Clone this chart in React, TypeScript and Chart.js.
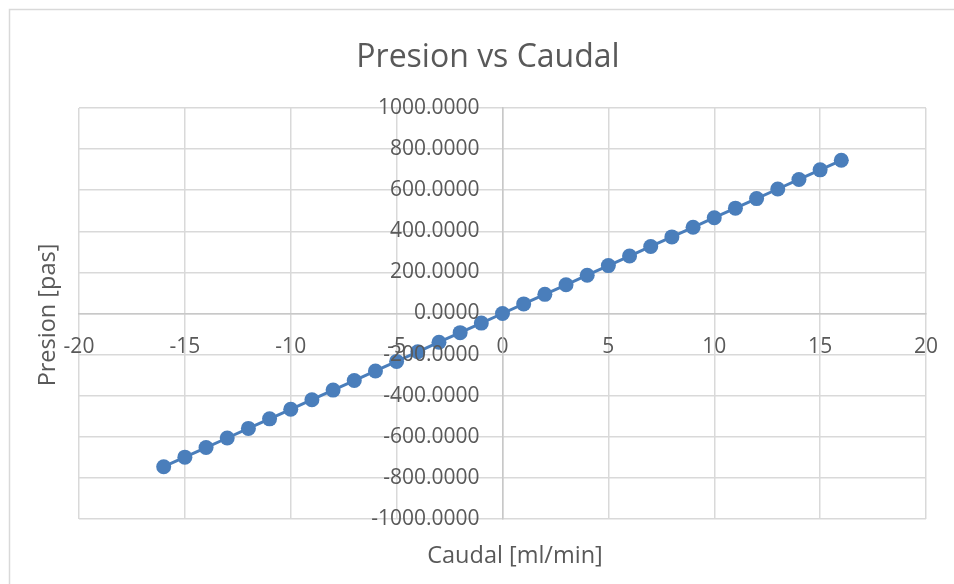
import React, { useEffect, useRef } from "react";
import { Chart, registerables } from "chart.js";

Chart.register(...registerables);

const caudal = [-16, -15, -14, -13, -12, -11, -10, -9, -8, -7, -6, -5, -4, -3, -2, -1, 0, 1, 2, 3, 4, 5, 6, 7, 8, 9, 10, 11, 12, 13, 14, 15, 16];
const presion = [-745.6, -699.0, -652.4, -605.8, -559.2, -512.6, -466.0, -419.4, -372.8, -326.2, -279.6, -233.0, -186.4, -139.8, -93.2, -46.6, 0, 46.6, 93.2, 139.8, 186.4, 233.0, 279.6, 326.2, 372.8, 419.4, 466.0, 512.6, 559.2, 605.8, 652.4, 699.0, 745.6];

const chartTitle = "Presion vs Caudal";
const xTitle = "Caudal [ml/min]";
const yTitle = "Presion [pas]";

const FONT = "'Open Sans', sans-serif";
const TEXT = "#595959";
const GRID = "#d9d9d9";
const SERIES = "#4A7EBB";

const decorPlugin = {
  id: "decor",
  beforeDraw(chart: any) {
    const ctx = chart.ctx;
    ctx.save();
    ctx.strokeStyle = GRID;
    ctx.lineWidth = 1.5;
    ctx.strokeRect(9.5, 9.5, 2000, 2000);
    ctx.restore();
  },
  afterDraw(chart: any) {
    const ctx = chart.ctx;
    const xs = chart.scales.x;
    const ys = chart.scales.y;
    ctx.save();
    ctx.fillStyle = TEXT;
    // y tick labels, placed left of the vertical zero axis
    ctx.font = `21px ${FONT}`;
    ctx.textAlign = "right";
    ctx.textBaseline = "middle";
    const x0 = xs.getPixelForValue(0);
    ys.ticks.forEach((t: any) => {
      ctx.fillText(Number(t.value).toFixed(4), x0 - 23, ys.getPixelForValue(t.value));
    });
    // titles
    ctx.textAlign = "center";
    ctx.textBaseline = "alphabetic";
    ctx.font = `32px ${FONT}`;
    ctx.fillText(chartTitle, 488, 67);
    ctx.font = `23.5px ${FONT}`;
    ctx.fillText(xTitle, 515, 563);
    ctx.translate(55, 315);
    ctx.rotate(-Math.PI / 2);
    ctx.fillText(yTitle, 0, 0);
    ctx.restore();
  },
};

export default function App() {
  const ref = useRef<HTMLCanvasElement>(null);
  useEffect(() => {
    if (!ref.current) return;
    const points = caudal.map((x, i) => ({ x, y: presion[i] }));
    const chart = new Chart(ref.current, {
      type: "scatter",
      data: {
        datasets: [
          {
            label: "Presion",
            data: points,
            showLine: true,
            borderColor: SERIES,
            backgroundColor: SERIES,
            borderWidth: 3,
            pointRadius: 7.5,
            pointBorderWidth: 0,
            pointBackgroundColor: SERIES,
          },
        ],
      },
      options: {
        animation: false,
        responsive: true,
        maintainAspectRatio: false,
        layout: { padding: { left: 79, right: 28, top: 108, bottom: 65 } },
        plugins: {
          legend: { display: false },
          title: { display: false },
          tooltip: { enabled: false },
        },
        scales: {
          x: {
            type: "linear",
            position: { y: 0 },
            min: -20,
            max: 20,
            ticks: {
              stepSize: 5,
              color: TEXT,
              font: { family: FONT, size: 21 },
              padding: 3,
              maxRotation: 0,
            },
            grid: {
              color: GRID,
              lineWidth: 1.5,
              drawTicks: true,
              tickLength: 18,
              tickColor: "rgba(0,0,0,0)",
            },
            border: { color: "#c8c8c8", width: 1.5 },
          },
          y: {
            type: "linear",
            position: { x: 0 },
            min: -1000,
            max: 1000,
            ticks: {
              stepSize: 200,
              display: false,
            },
            grid: { color: GRID, lineWidth: 1.5, drawTicks: false },
            border: { color: "#c8c8c8", width: 1.5 },
          },
        },
      },
      plugins: [decorPlugin],
    });
    return () => chart.destroy();
  }, []);
  return (
    <div style={{ position: "fixed", left: 0, top: 0, width: 954, height: 584, background: "#fff" }}>
      <canvas ref={ref} />
    </div>
  );
}
